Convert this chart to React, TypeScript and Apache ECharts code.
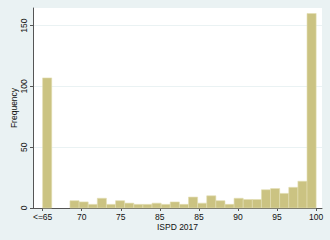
import React, { useEffect, useRef } from "react";
import * as echarts from "echarts";

const binMin = 65;
const binMax = 100;
const counts = [
  107, 0, 0, 6, 5, 3, 8, 3, 6, 4, 3, 3, 4, 3, 5, 3, 9, 4, 10, 6, 3, 8, 7, 7, 15, 16, 12, 17, 22, 160,
];
const xTickValues = [65, 70, 75, 80, 85, 90, 95, 100];
const xTickLabels = ["<=65", "70", "75", "85", "85", "90", "95", "100"];
const yTickValues = [0, 50, 100, 150];

export default function App() {
  const ref = useRef<HTMLDivElement>(null);
  useEffect(() => {
    if (!ref.current) return;
    const chart = echarts.init(ref.current, undefined, { renderer: "svg" });
    const w = (binMax - binMin) / counts.length;
    const data = counts.map((c, i) => [binMin + i * w, binMin + (i + 1) * w, c]);
    const font = "Liberation Sans";
    const fs = 8.5;
    chart.setOption({
      animation: false,
      backgroundColor: "#eaf2f3",
      textStyle: { fontFamily: font },
      grid: {
        left: 33,
        right: 8,
        top: 8,
        bottom: 32,
        show: true,
        backgroundColor: "#ffffff",
        borderWidth: 0,
        containLabel: false,
        outerBoundsMode: "none",
      },
      xAxis: {
        type: "value",
        min: 63.77,
        max: 100.75,
        name: "ISPD 2017",
        nameLocation: "middle",
        nameGap: 14,
        nameMoveOverlap: false,
        nameTextStyle: { color: "#111", fontSize: fs, fontFamily: font },
        axisLine: { show: true, lineStyle: { color: "#555", width: 1 } },
        axisTick: {
          show: true,
          length: 3,
          customValues: xTickValues,
          lineStyle: { color: "#555" },
        },
        axisLabel: {
          customValues: xTickValues,
          color: "#111",
          fontSize: fs,
          margin: 4,
          fontFamily: font,
          formatter: (v: number) => {
            const i = xTickValues.indexOf(v);
            return i >= 0 ? xTickLabels[i] : "";
          },
        },
        splitLine: { show: false },
      },
      yAxis: {
        type: "value",
        min: 0,
        max: 164.5,
        name: "Frequency",
        nameLocation: "middle",
        nameGap: 15,
        nameMoveOverlap: false,
        nameTextStyle: { color: "#111", fontSize: fs, fontFamily: font },
        axisLine: { show: true, lineStyle: { color: "#555", width: 1 } },
        axisTick: {
          show: true,
          length: 3,
          customValues: yTickValues,
          lineStyle: { color: "#555" },
        },
        axisLabel: {
          customValues: yTickValues,
          rotate: 90,
          color: "#111",
          fontSize: fs,
          margin: 5,
          fontFamily: font,
        },
        splitLine: {
          show: true,
          lineStyle: { color: "#eaf2f3", width: 1 },
        },
      },
      series: [
        {
          type: "custom",
          data,
          encode: { x: [0, 1], y: 2 },
          renderItem: (params: any, api: any) => {
            const s = api.value(0);
            const e = api.value(1);
            const v = api.value(2);
            if (!v) return null;
            const p0 = api.coord([s, v]);
            const p1 = api.coord([e, 0]);
            return {
              type: "rect",
              shape: { x: p0[0], y: p0[1], width: p1[0] - p0[0], height: p1[1] - p0[1] },
              style: { fill: "#cbc382", stroke: "#e2deb2", lineWidth: 0.6 },
            };
          },
        },
      ],
    });
    return () => chart.dispose();
  }, []);
  return (
    <div
      ref={ref}
      style={{ position: "fixed", left: 0, top: 0, width: 330, height: 240 }}
    />
  );
}
